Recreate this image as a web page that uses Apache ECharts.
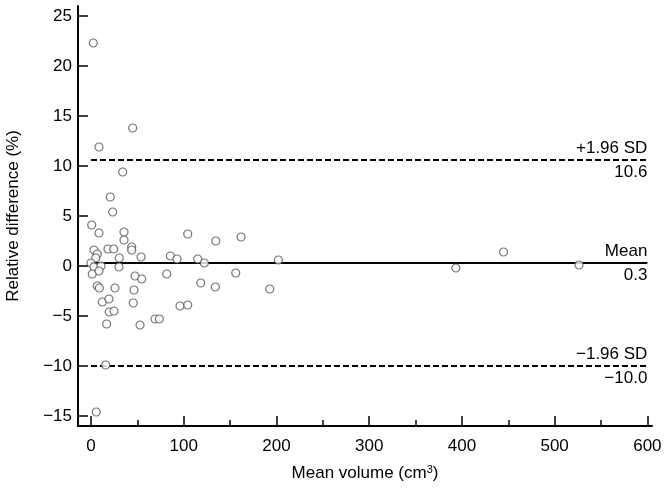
<!DOCTYPE html>
<html><head><meta charset="utf-8">
<script src="https://cdn.jsdelivr.net/npm/echarts@6/dist/echarts.min.js"></script>
<style>html,body{margin:0;padding:0;background:#fff}#c{width:666px;height:490px}</style>
</head><body><div id="c"></div>
<script>
const xVals = [2.5,45.0,8.6,34.2,20.8,23.4,0.8,8.6,35.6,35.6,104.3,3.2,18.3,24.5,43.9,43.9,6.8,5.1,30.5,54.0,85.6,92.8,0,3.2,10.8,30.2,1.4,8.6,47.5,54.7,81.7,115.1,122.3,202.1,156.1,134.6,161.9,6.8,9.0,25.9,46.4,12.2,19.4,45.6,19.7,24.8,16.9,52.9,69.1,73.7,96.0,104.3,15.9,5.7,118.4,134.1,192.8,444.9,393.5,526.3];
const yVals = [22.3,13.8,11.9,9.4,6.9,5.4,4.1,3.3,3.4,2.6,3.2,1.6,1.7,1.7,1.9,1.6,1.2,0.8,0.8,0.9,1.0,0.7,0.3,-0.1,0.0,-0.1,-0.8,-0.5,-1.0,-1.3,-0.8,0.7,0.3,0.6,-0.7,2.5,2.9,-2.0,-2.2,-2.2,-2.4,-3.6,-3.3,-3.7,-4.6,-4.5,-5.8,-5.9,-5.3,-5.3,-4.0,-3.9,-9.9,-14.6,-1.7,-2.1,-2.3,1.4,-0.2,0.1];
const meanVal = 0.3, upperLoA = 10.6, lowerLoA = -10.0;
const lineStart = 0, lineEnd = 600;
const xTicks = [0,100,200,300,400,500,600];
const yTicks = [-15,-10,-5,0,5,10,15,20,25];
const fmt = v => (v < 0 ? '\u2212' + Math.abs(v) : '' + v);
const fmt1 = v => (v < 0 ? '\u2212' + Math.abs(v).toFixed(1) : v.toFixed(1));
const FONT = 'Liberation Sans';
const FS = 17;
const pts = xVals.map((x, i) => [x, yVals[i]]);

function refLine(val, topText, botText, dashed) {
  const ls = { color: '#000', width: 2, type: dashed ? [6, 3] : 'solid' };
  const lbl = { color: '#000', fontFamily: FONT, fontSize: FS };
  return [
    [{ coord: [lineStart, val], lineStyle: ls, label: Object.assign({ show: true, position: 'insideEndTop', formatter: topText, distance: [0, 3] }, lbl) },
     { coord: [lineEnd, val] }],
    [{ coord: [lineStart, val], lineStyle: { color: 'rgba(0,0,0,0)', width: 0 }, label: Object.assign({ show: true, position: 'insideEndBottom', formatter: botText, distance: [0, 4] }, lbl) },
     { coord: [lineEnd, val] }]
  ];
}

const chart = echarts.init(document.getElementById('c'), null, { renderer: 'canvas' });
chart.setOption({
  animation: false,
  backgroundColor: '#fff',
  grid: { left: 78, right: 14, top: 6, bottom: 64, containLabel: false, outerBoundsMode: 'none' },
  xAxis: {
    type: 'value', min: -14, max: 605, position: 'bottom',
    name: 'Mean volume (cm{s|3})', nameLocation: 'middle', nameGap: 38,
    nameTextStyle: { color: '#000', fontFamily: FONT, fontSize: FS,
      rich: { s: { fontFamily: FONT, fontSize: 11, color: '#000', verticalAlign: 'top', padding: [0, 0, 8, 0] } } },
    axisLine: { show: true, onZero: false, lineStyle: { color: '#000', width: 2 } },
    axisTick: { show: true, inside: true, length: 10, customValues: xTicks, lineStyle: { color: '#000', width: 1.5 } },
    minorTick: { show: true, splitNumber: 2, length: 6, lineStyle: { color: '#000', width: 1.5 } },
    axisLabel: { show: true, customValues: xTicks, margin: 12, color: '#000', fontFamily: FONT, fontSize: FS },
    splitLine: { show: false }, minorSplitLine: { show: false }
  },
  yAxis: {
    type: 'value', min: -16, max: 26,
    name: 'Relative difference (%)', nameLocation: 'middle', nameGap: 56,
    nameTextStyle: { color: '#000', fontFamily: FONT, fontSize: FS },
    axisLine: { show: true, onZero: false, lineStyle: { color: '#000', width: 2 } },
    axisTick: { show: true, inside: true, length: 10, customValues: yTicks, lineStyle: { color: '#000', width: 1.5 } },
    axisLabel: { show: true, customValues: yTicks, margin: 6, color: '#000', fontFamily: FONT, fontSize: FS, formatter: fmt },
    splitLine: { show: false }
  },
  series: [{
    type: 'scatter', data: pts, symbol: 'circle', symbolSize: 8,
    itemStyle: { color: '#fff', borderColor: '#555', borderWidth: 1.2 },
    z: 3,
    markLine: {
      silent: true, symbol: 'none', z: 2, animation: false,
      data: [].concat(
        refLine(upperLoA, '+1.96 SD', fmt1(upperLoA), true),
        refLine(meanVal, 'Mean', fmt1(meanVal), false),
        refLine(lowerLoA, '\u22121.96 SD', fmt1(lowerLoA), true)
      )
    }
  }]
});
</script>
</body></html>
